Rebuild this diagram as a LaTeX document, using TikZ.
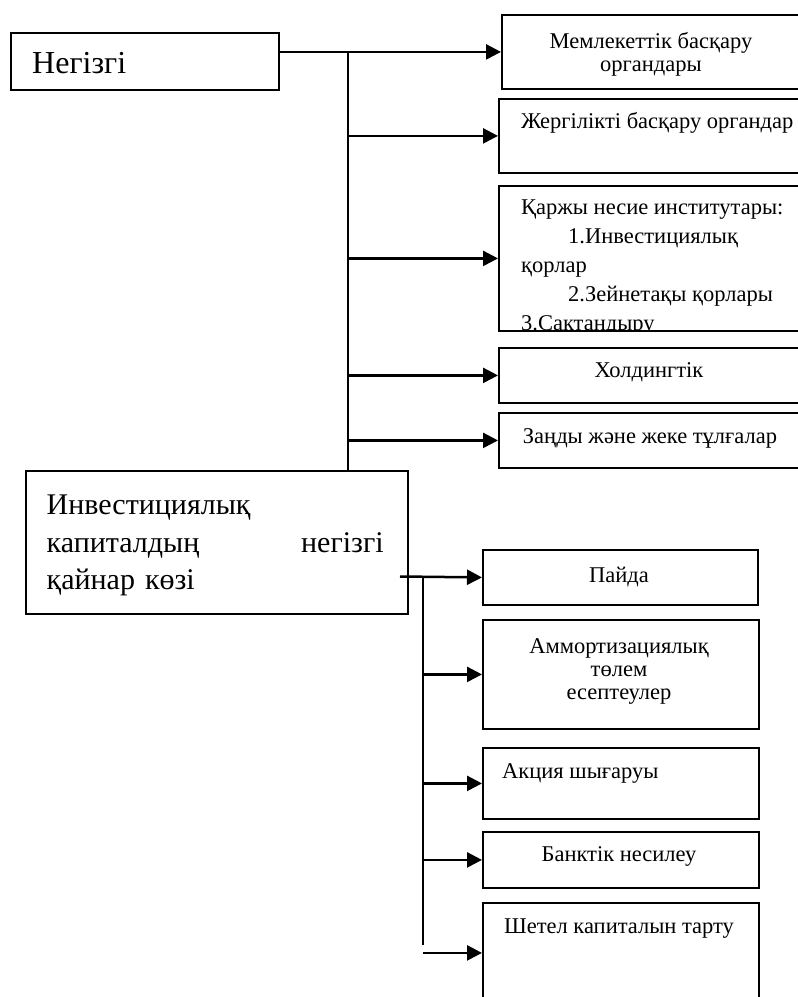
\documentclass[tikz,border=0pt]{standalone}
\usepackage{fontspec}
\setmainfont{Liberation Serif}
\usetikzlibrary{arrows.meta}

\tikzset{
  box/.style={draw, line width=1.8pt, anchor=north west, inner sep=0pt},
  lbl/.style={inner sep=0pt, font=\fontsize{22.5}{23}\selectfont},
  big/.style={inner sep=0pt, font=\fontsize{30}{37.5}\selectfont},
  arr/.style={line width=2.5pt, -{Triangle[length=15pt, width=15pt]}},
  trunk/.style={line width=2pt}
}

\begin{document}
\begin{tikzpicture}[x=1pt, y=-1pt]
\clip (0,0) rectangle (798,997);
\fill[white] (0,0) rectangle (798,997);
% upper group
\node[box, minimum width=268pt, minimum height=57pt] (neg) at (10,32) {};
\node[box, minimum width=320pt, minimum height=74pt] (b1) at (501,14) {};
\node[box, minimum width=322pt, minimum height=74pt] (b2) at (498,98) {};
\node[box, minimum width=322pt, minimum height=145pt] (b3) at (498,185) {};
\node[box, minimum width=322pt, minimum height=55pt] (b4) at (498,347) {};
\node[box, minimum width=322pt, minimum height=55pt] (b5) at (498,412) {};
% lower group
\node[box, minimum width=382pt, minimum height=143pt] (inv) at (25,470) {};
\node[box, minimum width=275pt, minimum height=55pt] (c1) at (482,549) {};
\node[box, minimum width=276pt, minimum height=109pt] (c2) at (482,619) {};
\node[box, minimum width=276pt, minimum height=71pt] (c3) at (482,747) {};
\node[box, minimum width=276pt, minimum height=56pt] (c4) at (482,831) {};
\node[box, minimum width=276pt, minimum height=100pt] (c5) at (482,902) {};

% texts
\node[big, anchor=base west, font=\fontsize{32}{37.5}\selectfont] (tneg) at (32,73.3) {Негізгі};
\node[lbl, anchor=north, align=center] (t1) at (651,31.7) {Мемлекеттік басқару\\органдары};
\node[lbl, anchor=base west] (t2) at (521,128) {Жергілікті басқару органдар};
\begin{scope}
\clip (b3.north west) rectangle (b3.south east);
\node[lbl, anchor=north west, align=left, font=\fontsize{22.5}{29}\selectfont] (t3) at (521,200)
  {Қаржы несие институтары:\\\hspace*{47pt}1.Инвестициялық\\қорлар\\\hspace*{47pt}2.Зейнетақы қорлары\\3.Сактандыру};
\end{scope}
\node[lbl, anchor=base] (t4) at (649,377) {Холдингтік};
\node[lbl, anchor=base] (t5) at (650,443) {Заңды және жеке тұлғалар};
\node[big, anchor=north west, text width=337pt, align=left] (tinv) at (46.5,495)
  {Инвестициялық\\капиталдың\hfill негізгі\\қайнар көзі};
\node[lbl, anchor=base] (s1) at (619,582) {Пайда};
\node[lbl, anchor=north, align=center] (s2) at (619,638)
  {Аммортизациялық\\төлем\\есептеулер};
\node[lbl, anchor=base west] (s3) at (502,778) {Акция шығаруы};
\node[lbl, anchor=base] (s4) at (619,861) {Банктік несилеу};
\node[lbl, anchor=base] (s5) at (619,933) {Шетел капиталын тарту};

% connectors
\coordinate (j1) at (348,51);
\draw[arr] (neg.east |- b1.west) -- (b1.west);
\draw[trunk] (j1) -- (j1 |- inv.north);
\foreach \b in {b2,b3,b4,b5}
  \draw[arr] (j1 |- \b.west) -- (\b.west);
\coordinate (k0) at (400,576.5);
\coordinate (k1) at (423,576.5);
\coordinate (k2) at (423,945);
\draw[arr] (k0) -- (c1.west);
\draw[trunk] (k1) -- (k2);
\foreach \c in {c2,c3,c4,c5}
  \draw[arr] (k1 |- \c.west) -- (\c.west);
\end{tikzpicture}
\end{document}
